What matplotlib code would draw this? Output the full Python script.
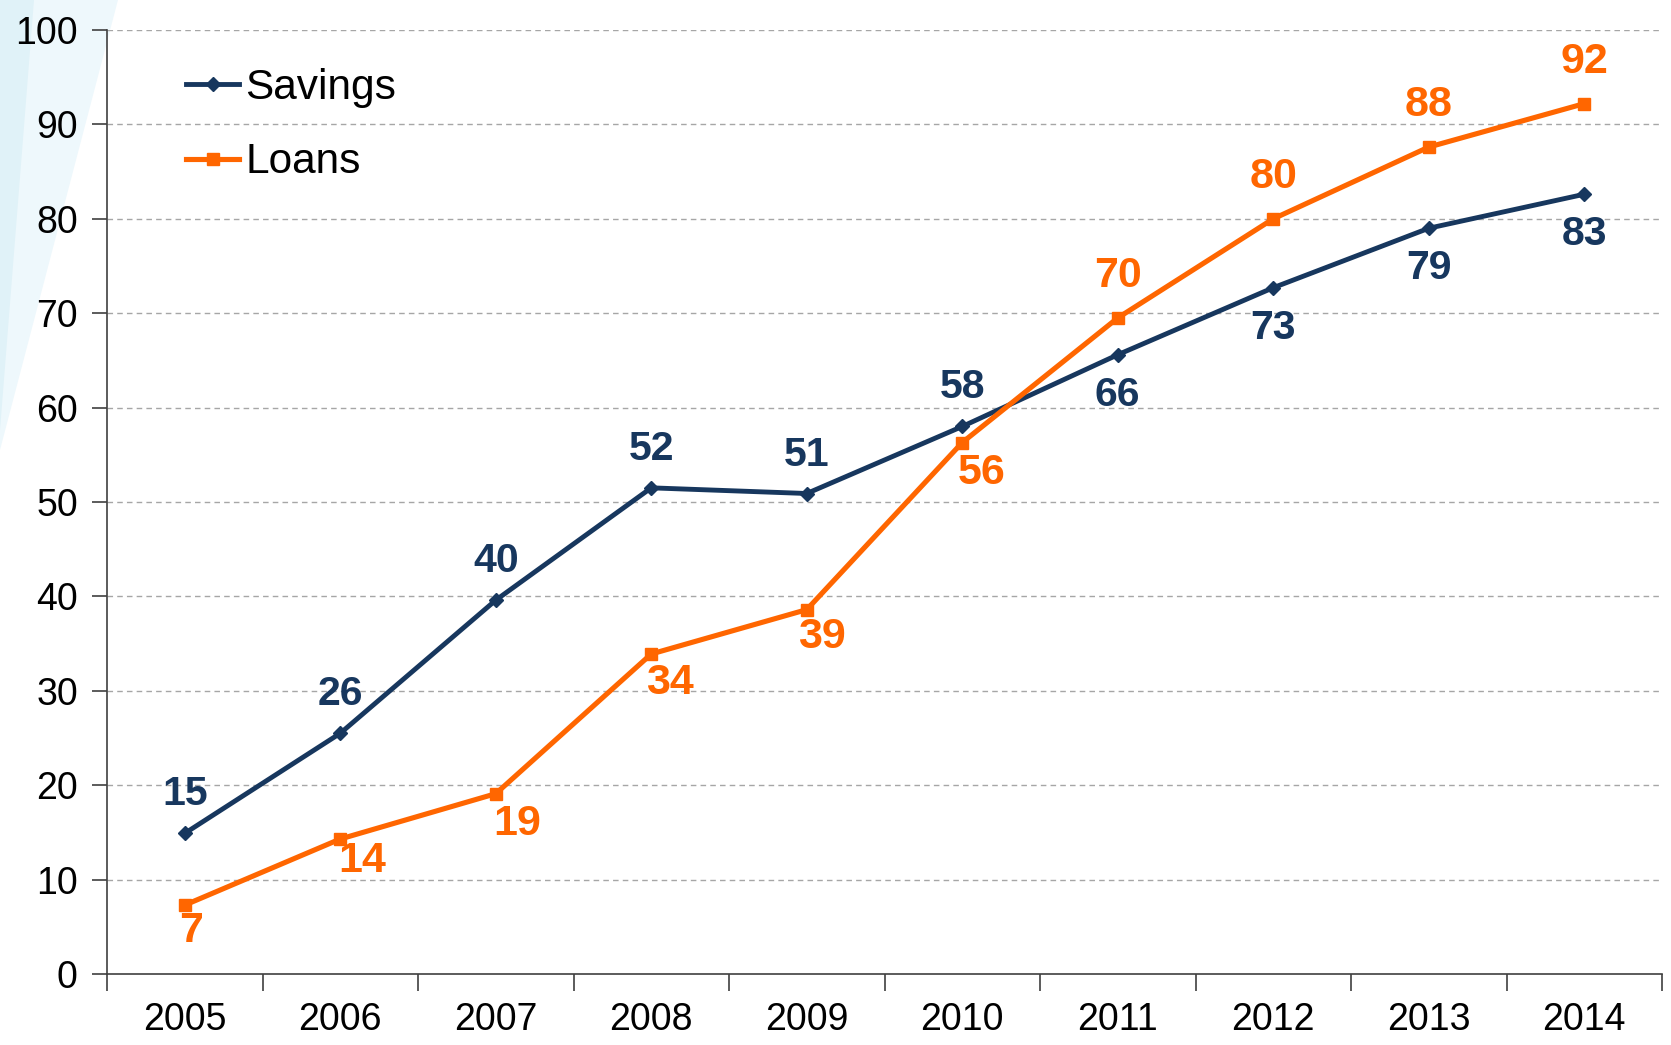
import numpy as np
import matplotlib.pyplot as plt
from matplotlib.patches import Polygon

plt.rcParams['font.family'] = ['Liberation Sans', 'DejaVu Sans']

# Data
years = ['2005', '2006', '2007', '2008', '2009', '2010', '2011', '2012', '2013', '2014']
savings = [14.9, 25.5, 39.6, 51.5, 50.9, 58.0, 65.6, 72.7, 79.0, 82.6]
loans = [7.3, 14.3, 19.1, 33.9, 38.6, 56.3, 69.5, 80.0, 87.6, 92.2]
savings_labels = ['15', '26', '40', '52', '51', '58', '66', '73', '79', '83']
loans_labels = ['7', '14', '19', '34', '39', '56', '70', '80', '88', '92']

navy = '#17375E'
orange = '#FF6600'

fig = plt.figure(figsize=(16.71, 10.45), dpi=100)

# Decorative light-blue swoosh in the top-left corner
fig.patches.append(Polygon([(0, 1), (118 / 1671, 1), (0, 1 - 450 / 1045)],
                           closed=True, transform=fig.transFigure,
                           facecolor='#EEF8FC', edgecolor='none', zorder=-2))
fig.patches.append(Polygon([(0, 1), (34 / 1671, 1), (0, 1 - 430 / 1045)],
                           closed=True, transform=fig.transFigure,
                           facecolor='#E0F2F8', edgecolor='none', zorder=-1))

ax = fig.add_axes([107 / 1671, 71 / 1045, 1555 / 1671, 944 / 1045])
ax.patch.set_alpha(0)

x = np.arange(len(years))

ax.plot(x, savings, color=navy, lw=3.5, marker='D', ms=7, label='Savings', zorder=3)
ax.plot(x, loans, color=orange, lw=3.7, marker='s', ms=9, label='Loans', zorder=3)

# Data labels (offsets in pixels)
sav_off = [(0, 39)] * 6 + [(0, -40)] * 4
loan_off = [(6, -26), (22, -22), (21, -30), (19, -29), (15, -27), (19, -30),
            (0, 42), (0, 42), (0, 42), (0, 42)]
for i in range(len(years)):
    ax.annotate(savings_labels[i], (x[i], savings[i]), xytext=sav_off[i],
                textcoords='offset pixels', ha='center', va='center',
                fontsize=29.5, fontweight='bold', color=navy, zorder=4)
    ax.annotate(loans_labels[i], (x[i], loans[i]), xytext=loan_off[i],
                textcoords='offset pixels', ha='center', va='center',
                fontsize=31, fontweight='bold', color=orange, zorder=4)

ax.set_xlim(-0.5, len(years) - 0.5)
ax.set_ylim(0, 100)

ax.set_yticks(np.arange(0, 101, 10))
ax.tick_params(axis='y', length=11, width=1.2, color='#404040', pad=10,
               labelsize=27)
ax.set_xticks(np.arange(-0.5, len(years), 1))
ax.set_xticklabels([])
ax.set_xticks(x, minor=True)
ax.set_xticklabels(years, minor=True)
ax.tick_params(axis='x', which='major', length=12, width=1.2, color='#404040')
ax.tick_params(axis='x', which='minor', length=0, pad=20, labelsize=27)

for y in range(10, 101, 10):
    ax.axhline(y, color='#A6A6A6', lw=1, ls=(0, (4, 3)), zorder=1)

for s in ['top', 'right']:
    ax.spines[s].set_visible(False)
for s in ['left', 'bottom']:
    ax.spines[s].set_color('#404040')
    ax.spines[s].set_linewidth(1.2)

ax.legend(loc='upper left', bbox_to_anchor=(0.04, 0.978), frameon=False,
          fontsize=30.5, handlelength=1.25, handletextpad=0.15, labelspacing=0.82,
          borderaxespad=0)

fig.savefig('out.png', dpi=100)
